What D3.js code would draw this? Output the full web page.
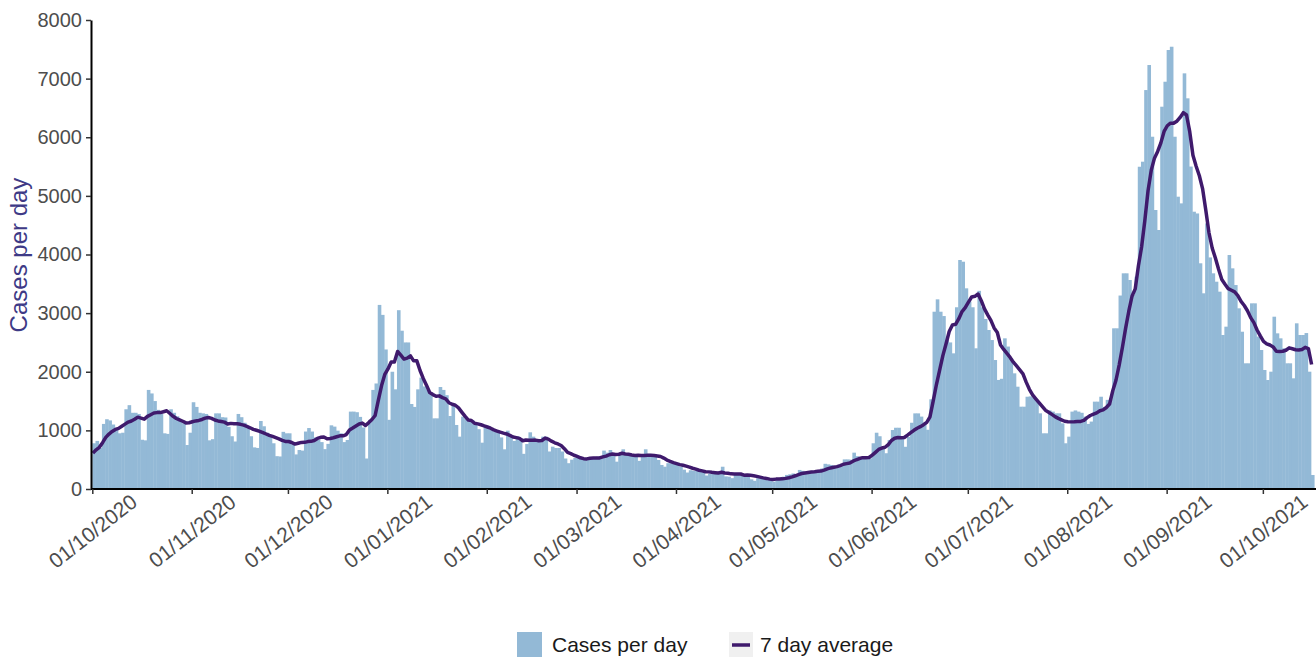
<!DOCTYPE html>
<html>
<head>
<meta charset="utf-8">
<script src="https://cdn.jsdelivr.net/npm/d3@7"></script>
<style>
  body { margin: 0; background: #fff; }
  svg { display: block; font-family: "Liberation Sans", Arial, Helvetica, sans-serif; }
</style>
</head>
<body>
<script>
// daily cases, one array per month
// last days of Sep 2020: not drawn, only feed the first 7 day averages
const sep2020Tail = [420, 400, 560, 560, 770, 790];
const oct2020 = [780, 820, 700, 1110, 1190, 1170, 1100, 1020, 950, 960, 1360, 1430, 1300, 1300, 1280, 840, 830, 1690, 1630, 1500, 1350, 1280, 950, 940, 1360, 1300, 1240, 1180, 1120, 750, 960];
const nov2020 = [1480, 1400, 1300, 1290, 1280, 830, 850, 1290, 1290, 1225, 1220, 1060, 900, 810, 1280, 1225, 1130, 1065, 900, 710, 700, 1160, 1070, 960, 900, 780, 560, 555, 975, 950];
const dec2020 = [950, 780, 590, 665, 655, 980, 1040, 980, 880, 840, 800, 680, 770, 1086, 1064, 995, 950, 800, 836, 1320, 1320, 1310, 1230, 1050, 520, 1180, 1690, 1800, 3140, 2970, 2380];
const jan2021 = [1180, 2000, 1700, 3050, 2700, 2500, 2500, 1450, 1400, 1700, 1900, 1750, 1700, 1620, 1205, 1205, 1740, 1690, 1600, 1245, 1430, 1092, 893, 1234, 1200, 1150, 1177, 1100, 1020, 790, 1092];
const feb2021 = [1075, 1006, 980, 960, 880, 677, 995, 900, 820, 900, 870, 600, 767, 967, 893, 840, 830, 893, 893, 640, 722, 700, 700, 640, 520, 440, 500, 530];
const mar2021 = [560, 540, 530, 495, 520, 520, 551, 560, 655, 620, 665, 600, 466, 580, 677, 580, 580, 570, 550, 480, 565, 677, 600, 580, 550, 495, 410, 380, 440, 440, 430];
const apr2021 = [430, 380, 330, 281, 320, 310, 315, 300, 310, 230, 260, 267, 270, 280, 380, 215, 210, 185, 265, 270, 265, 240, 240, 165, 140, 185, 180, 180, 175, 155];
const may2021 = [125, 180, 185, 210, 240, 250, 265, 250, 325, 310, 270, 300, 310, 300, 295, 350, 430, 420, 410, 390, 380, 420, 505, 505, 500, 620, 560, 530, 520, 510, 520];
const jun2021 = [780, 960, 900, 700, 610, 836, 1006, 1045, 1045, 890, 720, 890, 1130, 1290, 1290, 1235, 1120, 1010, 1530, 3024, 3235, 3024, 2950, 2540, 2500, 2314, 3100, 3906, 3877, 3423];
const jul2021 = [3200, 3100, 2400, 3380, 3100, 2900, 2712, 2541, 2200, 1860, 1880, 2570, 2430, 2229, 1973, 1745, 1404, 1404, 1574, 1580, 1560, 1500, 1291, 950, 950, 1340, 1320, 1291, 1291, 1120, 780];
const aug2021 = [893, 1320, 1340, 1320, 1300, 1234, 1110, 1150, 1490, 1490, 1574, 1400, 1520, 1520, 2741, 2741, 3300, 3679, 3679, 3565, 3309, 3621, 5497, 5583, 6805, 7232, 6009, 4759, 4418, 6521, 6947];
const sep2021 = [7488, 7544, 6009, 4986, 4872, 7090, 6664, 5500, 4730, 4700, 3850, 3338, 4530, 3950, 3679, 3536, 3366, 2627, 2769, 3991, 3764, 3479, 3082, 2683, 2144, 2144, 3167, 3167, 2600, 2371];
const oct2021 = [2030, 1859, 2001, 2939, 2655, 2570, 2400, 2144, 2144, 1888, 2826, 2627, 2627, 2660, 2001, 239];

const xTickLabels = ["01/10/2020", "01/11/2020", "01/12/2020", "01/01/2021", "01/02/2021", "01/03/2021", "01/04/2021",
  "01/05/2021", "01/06/2021", "01/07/2021", "01/08/2021", "01/09/2021", "01/10/2021"];
const yTicks = [0, 1000, 2000, 3000, 4000, 5000, 6000, 7000, 8000];

const width = 1316,
  height = 657;
const barColor = "#93b9d6",
  lineColor = "#3f1a6c";

const cases = [oct2020, nov2020, dec2020, jan2021, feb2021, mar2021, apr2021,
  may2021, jun2021, jul2021, aug2021, sep2021, oct2021].flat();
const start = new Date(Date.UTC(2020, 9, 1));
const data = cases.map((v, i) => ({ date: d3.utcDay.offset(start, i), value: v }));

// trailing 7 day average
const padded = sep2020Tail.concat(cases);
data.forEach((d, i) => {
  d.avg = d3.mean(padded.slice(i, i + 7));
});

const parseTick = d3.utcParse("%d/%m/%Y");

// scales
const xScale = d3
  .scaleUtc()
  .domain([start, d3.utcDay.offset(start, data.length)])
  .range([92.3, 92.3 + 3.207 * data.length]);

const yScale = d3.scaleLinear().domain([0, 8000]).range([489, 20]);

const step = xScale(d3.utcDay.offset(start, 1)) - xScale(start);

const svg = d3
  .select("body")
  .append("svg")
  .attr("width", width)
  .attr("height", height);

// bars
svg
  .append("g")
  .selectAll("rect")
  .data(data)
  .join("rect")
  .attr("x", (d) => xScale(d.date))
  .attr("width", step + 0.4)
  .attr("y", (d) => yScale(d.value))
  .attr("height", (d) => yScale(0) - yScale(d.value))
  .attr("fill", barColor);

// 7 day average line
const line = d3
  .line()
  .x((d) => xScale(d.date) + step * 0.2)
  .y((d) => yScale(d.avg));

svg
  .append("path")
  .datum(data)
  .attr("d", line)
  .attr("fill", "none")
  .attr("stroke", lineColor)
  .attr("stroke-width", 3.5)
  .attr("stroke-linejoin", "round");

// axes
const yAxis = d3
  .axisLeft(yScale)
  .tickValues(yTicks)
  .tickFormat(d3.format("d"))
  .tickSize(5)
  .tickSizeOuter(0)
  .tickPadding(4);
const gy = svg.append("g").attr("transform", "translate(91,0)").call(yAxis);
gy.select(".domain").attr("stroke", "#000").attr("stroke-width", 2);
gy.selectAll(".tick line").attr("stroke", "#333").attr("stroke-width", 1.5);
gy.selectAll(".tick text").attr("fill", "#4d4d4d").attr("font-size", 20).attr("font-family", null);

const xAxis = d3
  .axisBottom(xScale)
  .tickValues(xTickLabels.map(parseTick))
  .tickFormat(d3.utcFormat("%d/%m/%Y"))
  .tickSize(5)
  .tickSizeOuter(0);
const gx = svg.append("g").attr("transform", "translate(0,489)").call(xAxis);
gx.select(".domain").attr("stroke", "#000").attr("stroke-width", 2).attr("d", "M91,0H1316");
gx.selectAll(".tick line").attr("stroke", "#333").attr("stroke-width", 1.5);
gx.selectAll(".tick text")
  .attr("fill", "#4d4d4d")
  .attr("font-size", 21)
  .attr("font-family", null)
  .attr("y", 0)
  .attr("dy", "0.35em")
  .attr("text-anchor", "middle")
  .attr("transform", "translate(0,42) rotate(-38)");

// y title
svg
  .append("text")
  .attr("transform", "translate(27,255) rotate(-90)")
  .attr("text-anchor", "middle")
  .attr("fill", "#3e3a86")
  .attr("font-size", 24)
  .text("Cases per day");

// legend
const legend = svg.append("g").attr("font-size", 21).attr("fill", "#1a1a1a");
legend.append("rect").attr("x", 517).attr("y", 632).attr("width", 25).attr("height", 25).attr("fill", barColor);
legend.append("text").attr("x", 552).attr("y", 652).text("Cases per day");
legend.append("rect").attr("x", 729).attr("y", 632).attr("width", 24).attr("height", 25).attr("fill", "#f0f0f0");
legend
  .append("line")
  .attr("x1", 732)
  .attr("x2", 750)
  .attr("y1", 645)
  .attr("y2", 645)
  .attr("stroke", lineColor)
  .attr("stroke-width", 3.5);
legend.append("text").attr("x", 760).attr("y", 652).text("7 day average");
</script>
</body>
</html>
